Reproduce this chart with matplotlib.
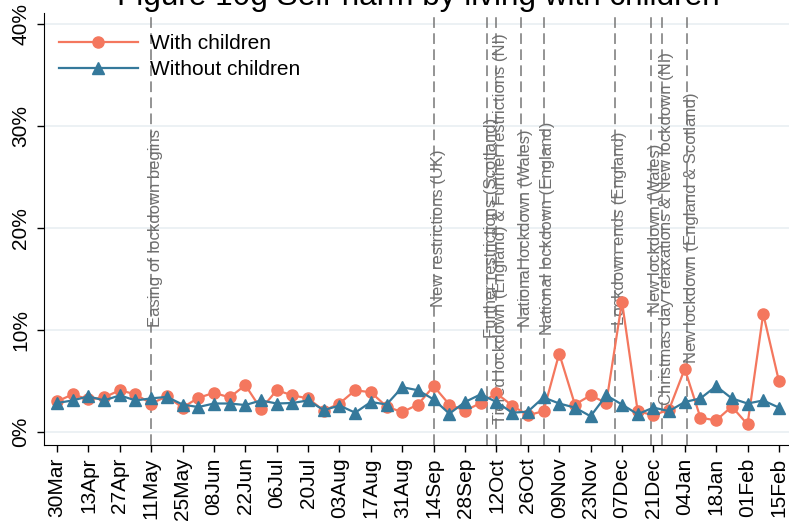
import pandas as pd
import matplotlib
matplotlib.use('Agg')
import matplotlib.pyplot as plt
import matplotlib.dates as mdates

plt.rcParams['font.family'] = ['Liberation Sans', 'DejaVu Sans']

# weekly survey waves
weeks = pd.date_range('2020-03-30', '2021-02-15', freq='7D')

# % reporting self-harm
with_children = [3.0, 3.7, 3.2, 3.4, 4.1, 3.7, 2.8, 3.5, 2.4, 3.35,
                 3.85, 3.4, 4.6, 2.25, 4.1, 3.6, 3.3, 2.1, 2.8, 4.1,
                 3.9, 2.5, 1.95, 2.7, 4.5, 2.7, 2.1, 2.85, 3.8, 2.6,
                 1.65, 2.05, 7.7, 2.7, 3.6, 2.85, 12.8, 2.05, 1.65, 2.2,
                 6.2, 1.4, 1.15, 2.5, 0.75, 11.6, 5.0]
without_children = [2.85, 3.1, 3.5, 3.1, 3.6, 3.1, 3.3, 3.45, 2.7, 2.45,
                    2.8, 2.8, 2.65, 3.1, 2.8, 2.85, 3.1, 2.15, 2.6, 1.9,
                    2.95, 2.7, 4.4, 4.1, 3.2, 1.8, 2.95, 3.7, 2.95, 1.9,
                    2.0, 3.4, 2.8, 2.4, 1.55, 3.6, 2.7, 1.75, 2.4, 2.05,
                    2.95, 3.3, 4.5, 3.3, 2.8, 3.1, 2.4]

yticks = [0, 10, 20, 30, 40]
ytick_labels = ['0%', '10%', '20%', '30%', '40%']

event_dates = ['2020-05-11', '2020-09-14', '2020-10-08', '2020-10-12',
               '2020-10-23', '2020-11-02', '2020-12-04', '2020-12-20',
               '2020-12-25', '2021-01-05']
event_labels = ['Easing of lockdown begins',
                'New restrictions (UK)',
                'Further restrictions (Scotland)',
                'Tiered lockdown (England) & Further restrictions (NI)',
                'National lockdown (Wales)',
                'National lockdown (England)',
                'Lockdown ends (England)',
                'New lockdown (Wales)',
                'Christmas day relaxations & New lockdown (NI)',
                'New lockdown (England & Scotland)']

orange = '#f4775e'
blue = '#35799b'

fig = plt.figure(figsize=(7.89, 5.22), dpi=100)
ax = fig.add_axes([44 / 789, 1 - 445 / 522, 1 - 44 / 789, (445 - 13) / 522])

# grid
for y in yticks:
    ax.axhline(y, color='#e9eff2', lw=1.2, zorder=0)

# event lines
for d, lab in zip(event_dates, event_labels):
    d = pd.Timestamp(d)
    ax.axvline(d, color='#777777', lw=1.1, ls=(0, (7, 3.5)), zorder=1)
    ax.text(d + pd.Timedelta(days=2), 20, lab, rotation=90, ha='center',
            va='center', fontsize=12, color='#6f6f6f', zorder=2)

ax.plot(weeks, with_children, color=orange, lw=1.6, marker='o', ms=8,
        label='With children', zorder=3)
ax.plot(weeks, without_children, color=blue, lw=1.6, marker='^', ms=8,
        label='Without children', zorder=4)

ax.set_xlim(weeks[0] - pd.Timedelta(days=5.8), weeks[-1] + pd.Timedelta(days=4.5))
ax.set_ylim(-1.27, 41.1)

ax.set_xticks(weeks[::2])
ax.xaxis.set_major_formatter(mdates.DateFormatter('%d%b'))
ax.set_yticks(yticks)
ax.set_yticklabels(ytick_labels)
ax.tick_params(axis='x', labelsize=15, labelrotation=90, length=5, width=1, pad=4)
ax.tick_params(axis='y', labelsize=15, labelrotation=90, length=5, width=1, pad=5)
for lab in ax.get_yticklabels():
    lab.set_va('center')

for s in ['top', 'right']:
    ax.spines[s].set_visible(False)

ax.legend(loc='upper left', bbox_to_anchor=(0.0, 0.985), frameon=False,
          fontsize=15, handlelength=3.8, handletextpad=0.6, labelspacing=0.35,
          borderaxespad=0.3)

fig.text(0.53, 1 - 5 / 522, 'Figure 10g Self-harm by living with children',
         ha='center', va='baseline', fontsize=22.7)

fig.savefig('out.png', dpi=100)
